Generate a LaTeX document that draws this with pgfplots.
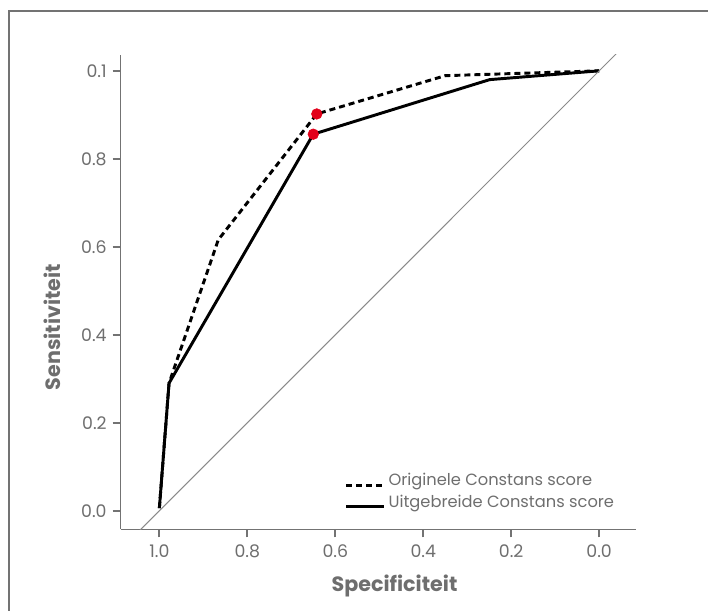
\documentclass[border=0pt]{standalone}
\usepackage{pgfplots}
\pgfplotsset{compat=1.18}
\usepackage{fontspec}
\setmainfont{Poppins}

\definecolor{axgray}{HTML}{737373}
\definecolor{txtgray}{HTML}{6E6E6E}
\definecolor{diaggray}{HTML}{8A8A8A}
\definecolor{dotred}{HTML}{E2001A}

% ROC data (specificiteit, sensitiviteit)
\pgfplotstableread{
spec  sens
1.000 0.006
0.978 0.290
0.866 0.616
0.642 0.902
0.350 0.989
0.000 1.000
}\origineel
\pgfplotstableread{
spec  sens
1.000 0.006
0.978 0.290
0.650 0.856
0.249 0.980
0.000 1.000
}\uitgebreid

\begin{document}
\begin{tikzpicture}
\useasboundingbox (0,0) rectangle (531pt,458.25pt);
% figure frame (only top and left edges visible)
\draw[axgray, line width=1.1pt] (6.75pt,0) -- (6.75pt,450pt) -- (531pt,450pt);

\begin{axis}[
    at={(90.5pt,61.3pt)}, anchor=south west,
    scale only axis,
    width=386.25pt, height=355.7pt,
    x dir=reverse,
    xmin=-0.083, xmax=1.088,
    ymin=-0.042, ymax=1.036,
    axis lines*=left,
    axis line style={axgray, line width=1.1pt, -},
    tick align=outside,
    major tick length=6pt,
    tick style={axgray, line width=1.5pt},
    xtick={0,0.2,0.4,0.6,0.8,1.0},
    xticklabels={0.0,0.2,0.4,0.6,0.8,1.0},
    ytick={0,0.2,0.4,0.6,0.8,1.0},
    yticklabels={0.0,0.2,0.4,0.6,0.8,0.1},
    /pgf/number format/assume math mode=true,
    ticklabel style={font=\fontsize{13}{15}\selectfont, text=txtgray},
    xticklabel style={yshift=-2pt},
    yticklabel style={xshift=-1pt},
    clip=true,
    legend style={draw=none, fill=none, at={(0.435,0.125)}, anchor=north west,
        font=\fontsize{12.2}{14}\selectfont, text=txtgray,
        row sep=1.5pt, inner sep=0pt,
        /tikz/every even column/.append style={column sep=0pt}},
    legend cell align=left,
    legend image code/.code={\draw[#1] (0pt,-3.8pt) -- (28.5pt,-3.8pt);},
]
\addplot[black, line width=2.2pt, dash pattern=on 4.5pt off 3pt] table[x=spec, y=sens] {\origineel};
\addlegendentry{Originele Constans score}
\addplot[black, line width=2.2pt] table[x=spec, y=sens] {\uitgebreid};
\addlegendentry{Uitgebreide Constans score}
\addplot[diaggray, line width=0.75pt, forget plot] coordinates {(1.2,-0.2) (-0.2,1.2)};
\addplot[only marks, mark=*, mark size=4pt, dotred, forget plot] coordinates {(0.642,0.902) (0.650,0.856)};
\end{axis}

\node[text=txtgray, font=\bfseries\fontsize{15.5}{17}\selectfont, rotate=90] at (39pt,213pt) {Sensitiviteit};
\node[text=txtgray, font=\bfseries\fontsize{15.5}{17}\selectfont] at (295.9pt,18.75pt) {Specificiteit};
\end{tikzpicture}
\end{document}
